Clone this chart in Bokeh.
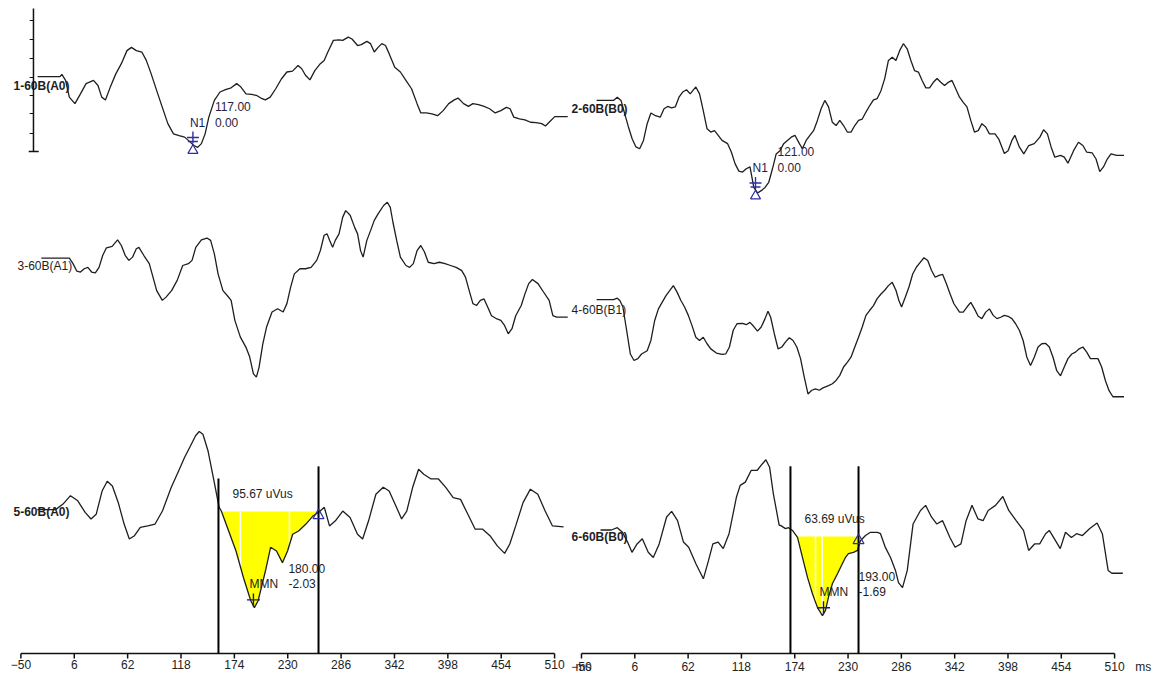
import numpy as np
from bokeh.plotting import figure
from bokeh.layouts import row
from bokeh.models import Range1d, FixedTicker
from bokeh.core.properties import value
from bokeh.embed import file_html
from bokeh.resources import INLINE

# ---------------- data (time in ms, amplitude in uV) ----------------
tick_ms = [-50, 6, 62, 118, 174, 230, 286, 342, 398, 454, 510]
unit_label = "ms"

# 1-60B(A0)
t1 = [-32.4, -9.0, -7.0, -3.1, 0.8, 6.7, 12.5, 18.4, 26.2, 30.9,
      34.8, 38.7, 43.7, 49.6, 55.4, 61.3, 66.0, 71.1, 76.9, 81.6,
      86.7, 92.5, 98.4, 104.2, 110.1, 116.0, 121.8, 125.7, 131.6, 135.5,
      139.4, 143.3, 147.2, 153.0, 158.9, 164.7, 170.6, 176.4, 180.3, 186.2,
      192.1, 197.9, 201.8, 206.5, 211.6, 217.4, 223.3, 229.1, 235.0, 240.8,
      244.7, 248.6, 253.3, 258.4, 264.2, 268.2, 272.1, 277.9, 283.8, 287.7,
      293.5, 297.4, 303.3, 307.2, 313.0, 316.9, 320.8, 324.8, 328.7, 332.6,
      336.5, 342.3, 348.2, 354.0, 359.9, 365.7, 369.6, 375.5, 381.3, 387.2,
      393.1, 398.9, 404.8, 408.7, 414.5, 419.6, 424.3, 430.1, 436.0, 441.8,
      447.7, 453.6, 459.4, 463.3, 467.2, 473.1, 478.9, 484.8, 490.6, 496.5,
      500.4, 504.3, 510.2, 516.0, 523.8]
v1 = [0.19, 0.19, 0.24, 0.11, -0.25, -0.39, -0.18, 0.04, 0.11, 0.00,
      -0.25, -0.31, -0.04, 0.25, 0.47, 0.75, 0.82, 0.75, 0.72, 0.54,
      0.25, -0.11, -0.47, -0.82, -1.04, -1.08, -1.11, -1.18, -1.29, -1.33,
      -1.25, -1.04, -0.68, -0.32, -0.14, -0.09, -0.05, 0.04, -0.02, -0.18,
      -0.19, -0.22, -0.27, -0.31, -0.25, -0.07, 0.14, 0.29, 0.31, 0.43,
      0.36, 0.22, 0.12, 0.32, 0.47, 0.54, 0.72, 0.97, 0.98, 0.97,
      1.04, 1.00, 0.86, 0.88, 0.95, 0.90, 0.72, 0.82, 0.90, 0.86,
      0.68, 0.39, 0.29, 0.11, -0.07, -0.39, -0.59, -0.59, -0.61, -0.65,
      -0.54, -0.39, -0.31, -0.27, -0.39, -0.45, -0.39, -0.41, -0.45, -0.50,
      -0.59, -0.54, -0.47, -0.50, -0.68, -0.72, -0.74, -0.79, -0.80, -0.82,
      -0.87, -0.79, -0.67, -0.67, -0.67]

# 3-60B(A1)
t3 = [-28.5, 0.8, 4.7, 8.6, 12.5, 16.4, 20.3, 24.2, 28.1, 32.0,
      35.9, 39.8, 45.7, 51.5, 55.4, 59.4, 63.3, 67.2, 71.1, 73.8,
      78.9, 84.7, 88.6, 92.5, 98.4, 102.3, 108.1, 114.0, 119.8, 125.7,
      129.6, 133.5, 139.4, 145.2, 149.1, 153.0, 156.9, 162.0, 166.7, 170.6,
      174.5, 180.3, 186.2, 190.1, 194.0, 197.1, 199.9, 203.8, 207.7, 213.5,
      219.4, 225.2, 229.1, 233.0, 236.9, 242.8, 248.6, 254.5, 260.4, 264.2,
      268.2, 271.3, 274.0, 277.1, 279.9, 283.8, 287.7, 290.8, 295.5, 300.2,
      303.3, 306.4, 309.1, 313.0, 316.9, 320.8, 324.8, 330.6, 334.5, 337.6,
      340.4, 344.3, 348.2, 354.0, 357.9, 361.8, 365.7, 369.6, 373.5, 377.4,
      383.3, 389.2, 395.0, 400.9, 406.7, 412.6, 416.5, 420.4, 424.3, 428.2,
      432.1, 436.0, 439.9, 443.8, 449.6, 453.6, 457.5, 461.4, 465.3, 469.2,
      475.0, 478.9, 482.8, 486.7, 492.6, 498.4, 504.3, 508.2, 512.1, 523.8]
v3 = [0.16, 0.16, 0.04, -0.12, -0.14, -0.07, -0.04, -0.14, -0.16, -0.04,
      0.22, 0.38, 0.41, 0.55, 0.43, 0.22, 0.11, 0.18, 0.36, 0.39,
      0.22, 0.04, -0.25, -0.54, -0.75, -0.68, -0.54, -0.32, 0.00, 0.04,
      0.11, 0.39, 0.55, 0.59, 0.54, 0.25, -0.18, -0.54, -0.65, -0.75,
      -1.18, -1.54, -1.76, -1.97, -2.33, -2.40, -2.19, -1.69, -1.33, -1.00,
      -0.93, -1.00, -0.82, -0.47, -0.18, -0.07, -0.07, -0.04, 0.11, 0.32,
      0.65, 0.68, 0.54, 0.39, 0.54, 0.68, 1.04, 1.18, 1.08, 0.82,
      0.68, 0.32, 0.18, 0.54, 0.75, 0.97, 1.11, 1.29, 1.36, 1.25,
      0.93, 0.54, 0.18, 0.00, -0.04, 0.04, 0.32, 0.43, 0.29, 0.07,
      0.04, 0.07, 0.04, 0.00, -0.04, -0.11, -0.25, -0.54, -0.82, -0.86,
      -0.75, -0.72, -0.90, -1.08, -1.15, -1.18, -1.29, -1.47, -1.36, -1.08,
      -0.86, -0.61, -0.39, -0.30, -0.39, -0.57, -0.75, -1.08, -1.11, -1.11]

# 5-60B(A0)
t5 = [-32.8, -13.5, -5.8, 2.0, 9.7, 17.4, 23.6, 29.0, 35.2, 40.6,
      46.0, 52.2, 58.3, 63.8, 69.2, 75.3, 83.1, 90.8, 98.5, 107.8,
      115.5, 121.7, 127.9, 133.3, 137.1, 141.0, 146.4, 152.6, 158.0, 160.3,
      168.0, 175.7, 183.5, 191.2, 195.0, 198.9, 206.6, 212.0, 218.2, 224.4,
      229.8, 235.2, 241.4, 249.1, 256.8, 262.2, 268.4, 273.8, 280.0, 287.7,
      295.4, 303.2, 308.6, 314.8, 322.5, 330.2, 336.4, 344.1, 349.5, 354.9,
      361.1, 367.3, 372.7, 380.4, 388.1, 395.8, 403.6, 411.3, 419.0, 426.7,
      434.5, 442.2, 449.9, 457.6, 463.0, 469.2, 476.9, 484.6, 492.4, 500.1,
      507.8, 519.4]
v5 = [0.04, 0.04, 0.16, 0.34, 0.23, -0.02, -0.16, -0.06, 0.44, 0.65,
      0.55, 0.19, -0.27, -0.59, -0.52, -0.34, -0.31, -0.27, 0.01, 0.52,
      0.87, 1.16, 1.41, 1.63, 1.72, 1.66, 1.30, 0.66, 0.09, 0.01,
      -0.42, -0.85, -1.42, -1.92, -2.07, -1.92, -1.28, -0.77, -0.85, -1.10,
      -0.85, -0.49, -0.42, -0.27, -0.09, -0.02, 0.09, -0.31, -0.20, 0.01,
      -0.13, -0.49, -0.59, -0.20, 0.37, 0.52, 0.44, 0.09, -0.16, 0.01,
      0.52, 0.91, 0.80, 0.70, 0.70, 0.52, 0.30, 0.26, -0.06, -0.38,
      -0.38, -0.52, -0.74, -0.90, -0.70, -0.31, 0.19, 0.48, 0.37, 0.01,
      -0.31, -0.33]

# 2-60B(B0)
t2 = [-34.1, -16.4, -12.4, -8.5, -4.6, -0.7, 3.3, 7.2, 11.1, 15.1,
      19.0, 22.9, 26.9, 32.7, 36.7, 40.6, 44.5, 48.5, 52.4, 56.3,
      60.3, 64.2, 70.1, 74.0, 77.9, 81.9, 85.8, 89.7, 93.6, 97.6,
      103.5, 107.4, 111.3, 115.3, 119.2, 123.1, 127.0, 131.0, 134.9, 138.8,
      142.8, 146.7, 150.6, 154.5, 158.5, 162.4, 166.3, 170.3, 174.2, 178.9,
      182.0, 186.0, 189.9, 193.8, 197.8, 201.7, 205.6, 209.5, 213.5, 217.4,
      221.3, 225.3, 229.2, 233.1, 237.1, 241.0, 244.9, 248.8, 252.8, 256.7,
      260.6, 264.6, 268.5, 272.4, 276.4, 280.3, 284.2, 288.1, 292.1, 296.0,
      299.9, 303.9, 307.8, 311.7, 315.6, 319.6, 323.5, 327.4, 331.4, 335.3,
      339.2, 343.1, 347.1, 351.0, 354.9, 358.9, 362.8, 366.7, 370.6, 374.6,
      378.5, 384.4, 388.3, 394.2, 398.1, 402.1, 405.2, 409.9, 414.6, 419.8,
      425.6, 431.5, 435.4, 439.4, 443.3, 447.2, 453.2, 457.1, 461.0, 466.9,
      472.0, 476.7, 480.6, 486.5, 490.5, 494.4, 498.3, 502.3, 506.2, 512.1,
      519.9]
v2 = [0.18, 0.18, 0.25, 0.18, -0.11, -0.39, -0.65, -0.82, -0.86, -0.68,
      -0.32, -0.09, -0.14, -0.18, 0.00, 0.05, 0.02, 0.04, 0.25, 0.36,
      0.41, 0.32, 0.47, 0.32, -0.04, -0.43, -0.50, -0.47, -0.57, -0.68,
      -0.75, -0.93, -1.18, -1.34, -1.36, -1.29, -1.25, -1.69, -1.81, -1.76,
      -1.69, -1.58, -1.29, -0.97, -0.90, -0.75, -0.68, -0.61, -0.57, -0.75,
      -0.86, -0.68, -0.57, -0.47, -0.25, 0.00, 0.18, 0.04, -0.29, -0.36,
      -0.25, -0.36, -0.50, -0.50, -0.36, -0.25, -0.22, -0.07, 0.07, 0.19,
      0.22, 0.39, 0.65, 1.04, 1.11, 1.04, 1.25, 1.40, 1.29, 1.04,
      0.82, 0.79, 0.61, 0.45, 0.45, 0.57, 0.65, 0.57, 0.50, 0.57,
      0.61, 0.43, 0.25, 0.14, 0.04, -0.25, -0.50, -0.47, -0.32, -0.39,
      -0.54, -0.54, -0.65, -0.96, -0.90, -0.68, -0.57, -0.82, -0.97, -0.79,
      -0.75, -0.61, -0.45, -0.54, -0.82, -1.04, -1.00, -1.04, -1.17, -0.90,
      -0.72, -0.79, -0.93, -0.95, -1.08, -1.35, -1.25, -1.08, -0.97, -1.00,
      -1.00]

# 4-60B(B1)
t4 = [-34.1, -16.4, -12.4, -9.7, -6.5, -2.6, 1.3, 5.2, 9.2, 13.1,
      19.0, 22.9, 26.9, 30.8, 34.7, 38.6, 42.6, 46.5, 50.4, 54.4,
      58.3, 62.2, 66.1, 70.1, 74.0, 77.9, 81.9, 85.8, 91.7, 97.6,
      101.5, 105.4, 109.4, 113.3, 119.2, 123.1, 127.0, 131.0, 134.9, 138.8,
      142.8, 145.9, 148.7, 152.6, 156.5, 160.4, 164.4, 168.3, 172.2, 176.2,
      180.1, 184.0, 187.9, 191.9, 195.8, 199.7, 203.7, 209.5, 213.5, 217.4,
      221.3, 225.3, 229.2, 233.1, 237.1, 241.0, 244.9, 248.8, 252.8, 256.7,
      260.6, 264.6, 268.5, 272.4, 276.4, 280.3, 283.4, 286.2, 290.1, 294.0,
      297.9, 301.9, 305.8, 309.7, 313.7, 317.6, 321.5, 325.5, 329.4, 333.3,
      337.2, 341.2, 347.1, 351.0, 354.9, 358.9, 362.8, 366.7, 370.6, 374.6,
      378.5, 382.5, 386.4, 390.3, 394.2, 398.1, 402.1, 406.0, 409.9, 413.9,
      417.8, 421.7, 425.6, 429.6, 433.5, 437.4, 441.4, 445.3, 449.2, 453.2,
      457.1, 461.0, 465.0, 468.9, 472.8, 476.7, 480.7, 484.6, 488.5, 492.5,
      496.4, 500.3, 504.2, 508.2, 514.0, 519.9]
v4 = [0.22, 0.22, 0.25, 0.20, 0.06, -0.44, -0.95, -1.09, -1.05, -0.95,
      -0.88, -0.66, -0.23, 0.02, 0.16, 0.30, 0.41, 0.52, 0.38, 0.20,
      0.06, -0.12, -0.34, -0.59, -0.66, -0.59, -0.73, -0.84, -0.93, -0.96,
      -0.95, -0.80, -0.44, -0.30, -0.29, -0.32, -0.27, -0.36, -0.46, -0.37,
      -0.19, -0.03, -0.16, -0.52, -0.84, -0.80, -0.69, -0.60, -0.66, -0.80,
      -1.05, -1.45, -1.81, -1.73, -1.70, -1.73, -1.68, -1.63, -1.59, -1.52,
      -1.41, -1.23, -1.13, -1.02, -0.80, -0.59, -0.37, -0.12, -0.01, 0.09,
      0.24, 0.34, 0.42, 0.52, 0.59, 0.42, 0.20, 0.06, 0.27, 0.49,
      0.77, 0.92, 1.02, 1.12, 1.06, 0.85, 0.70, 0.74, 0.76, 0.56,
      0.34, 0.13, -0.05, -0.05, 0.06, 0.16, 0.02, -0.14, -0.19, -0.05,
      0.02, -0.12, -0.19, -0.16, -0.12, -0.14, -0.19, -0.30, -0.44, -0.66,
      -1.02, -1.20, -1.02, -0.80, -0.73, -0.72, -0.80, -1.02, -1.31, -1.42,
      -1.23, -1.05, -0.95, -0.91, -0.84, -0.80, -0.91, -1.05, -1.05, -1.05,
      -1.23, -1.52, -1.74, -1.87, -1.87, -1.87]

# 6-60B(B0)
t6 = [-30.0, -18.6, -12.4, -7.0, -1.6, 3.0, 8.4, 13.9, 20.1, 25.4,
      31.6, 39.4, 44.7, 50.9, 57.1, 62.6, 70.3, 78.0, 83.4, 88.0,
      93.5, 98.9, 105.0, 112.8, 116.7, 122.1, 128.2, 134.4, 139.9, 143.7,
      147.6, 151.5, 157.7, 159.0, 164.3, 167.4, 171.6, 176.9, 182.1, 187.4,
      192.6, 197.9, 203.1, 206.3, 209.4, 213.6, 218.9, 224.1, 227.3, 230.4,
      235.7, 239.9, 243.0, 248.3, 253.5, 260.9, 264.1, 269.3, 274.6, 279.8,
      283.0, 287.2, 292.2, 298.3, 306.1, 311.5, 317.6, 323.1, 329.3, 337.0,
      342.4, 348.6, 354.0, 360.2, 366.4, 371.8, 377.2, 384.9, 392.6, 398.8,
      406.6, 414.3, 419.7, 425.9, 431.3, 437.5, 441.4, 446.8, 452.9, 458.4,
      464.6, 470.0, 476.2, 483.9, 491.6, 497.1, 503.2, 507.1, 518.6]
v6 = [0.14, 0.14, 0.19, 0.09, -0.12, -0.34, -0.16, -0.05, -0.34, -0.45,
      -0.16, 0.42, 0.54, 0.34, -0.12, -0.23, -0.59, -0.91, -0.52, -0.16,
      -0.12, -0.26, 0.06, 0.85, 1.10, 1.17, 1.42, 1.42, 1.56, 1.65,
      1.49, 0.92, 0.24, 0.24, 0.17, 0.19, 0.13, -0.02, -0.45, -0.88,
      -1.23, -1.53, -1.70, -1.59, -1.31, -1.01, -0.80, -0.58, -0.45, -0.37,
      -0.34, -0.30, -0.09, 0.02, 0.09, 0.09, 0.06, -0.24, -0.45, -0.73,
      -0.99, -1.10, -0.73, 0.27, 0.56, 0.67, 0.42, 0.27, 0.34, -0.02,
      -0.23, -0.16, 0.34, 0.67, 0.38, 0.34, 0.56, 0.67, 0.86, 0.56,
      0.34, 0.13, -0.30, -0.16, -0.16, 0.06, 0.13, -0.05, -0.26, 0.09,
      -0.02, 0.06, 0.02, 0.17, 0.29, 0.06, -0.73, -0.79, -0.79]

# markers / annotations
n1_left = dict(time=130.5, labels=["N1", "117.00", "0.00"])
n1_right = dict(time=132.8, labels=["N1", "121.00", "0.00"])
mmn_left = dict(window=(157.3, 262.3), peak=194.0, area="95.67 uVus",
                labels=["MMN", "180.00", "-2.03"], gaps=[180.4, 231.8], tops=[0.71, 0.97])
mmn_right = dict(window=(169.5, 241.0), peak=204.2, area="63.69 uVus",
                 labels=["MMN", "193.00", "-1.69"], gaps=[195.8, 202.8], tops=[1.51, 1.51])

# ---------------- styling / layout constants ----------------
PXV = 46.5          # pixels per uV
PX = 1.0 / PXV      # uV per pixel
FH = 658            # frame height (px)
AXIS_Y = -653 * PX  # level of the drawn time axis
FONT = "Liberation Sans"
INK = "#1e1e1e"
BLUE = "#2e2ea6"


def make_fig(fw, x0, x1, extra_ticks):
    p = figure(frame_width=fw, frame_height=FH,
               x_range=Range1d(x0, x1), y_range=Range1d(-FH * PX, 0),
               output_backend="svg", toolbar_location=None,
               y_axis_location=None, min_border_left=0, min_border_right=0,
               min_border_top=0, min_border_bottom=0)
    p.grid.visible = False
    p.outline_line_color = None
    p.background_fill_color = "white"
    p.border_fill_color = "white"
    ax = p.xaxis[0]
    ax.ticker = FixedTicker(ticks=tick_ms + list(extra_ticks))
    ax.major_label_overrides = {k: unit_label for k in extra_ticks}
    ax.axis_line_color = None
    ax.major_tick_line_color = None
    ax.major_tick_in = 0
    ax.major_tick_out = 0
    ax.minor_tick_line_color = None
    ax.major_label_standoff = 1
    ax.major_label_text_font = FONT
    ax.major_label_text_font_size = "12px"
    ax.major_label_text_color = "#222222"
    # axis line and tick marks along the time scale
    p.segment(x0=[tick_ms[0]], y0=[AXIS_Y], x1=[tick_ms[-1]], y1=[AXIS_Y],
              line_color="#111111", line_width=1.6)
    p.segment(x0=tick_ms, y0=[AXIS_Y] * len(tick_ms), x1=tick_ms,
              y1=[AXIS_Y - 6 * PX] * len(tick_ms), line_color="#111111", line_width=1.5)
    return p


def draw_trace(p, t, v, off, name, style, lx):
    p.line(t, off + np.array(v), line_color=INK, line_width=1.3)
    p.text(x=[lx], y=[off], text=[name], text_font=value(FONT),
           text_font_size="12px", text_font_style=style, text_color=INK,
           text_align="left", text_baseline="middle")


def txt(p, x, y, s, dx=0, color=INK):
    p.text(x=[x], y=[y], text=[s], x_offset=dx, text_font=value(FONT),
           text_font_size="12px", text_color=color,
           text_align="left", text_baseline="middle")


def draw_n1(p, t, v, off, info):
    tt = info["time"]
    pv = off + float(np.interp(tt, t, v))
    p.scatter([tt], [pv + 7 * PX], marker="cross", size=12, line_color=BLUE, line_width=1.4)
    p.scatter([tt], [pv + 3 * PX], marker="dash", size=10, line_color=BLUE, line_width=1.4)
    p.scatter([tt], [pv - 6 * PX], marker="triangle", size=10, line_color=BLUE,
              fill_color=None, line_width=1.2)
    a, b, c = info["labels"]
    txt(p, tt, pv + 22 * PX, a, dx=-3, color="#1c1c5a")
    txt(p, tt, pv + 38 * PX, b, dx=22, color="#2a2440")
    txt(p, tt, pv + 22 * PX, c, dx=22, color="#2a2440")


def draw_mmn(p, t, v, off, info):
    w0, w1 = info["window"]
    ts = np.linspace(w0, w1, 400)
    vs = np.interp(ts, t, v)
    p.varea(x=ts, y1=np.full_like(ts, off), y2=off + np.minimum(vs, 0), fill_color="#ffff00")
    gv = np.minimum(np.interp(info["gaps"], t, v), 0)
    p.segment(x0=info["gaps"], y0=[off, off], x1=info["gaps"], y1=list(off + gv),
              line_color="white", line_width=1.5)
    p.line(t, off + np.array(v), line_color=INK, line_width=1.3)
    p.segment(x0=[w0, w1], y0=[off + info["tops"][0], off + info["tops"][1]],
              x1=[w0, w1], y1=[AXIS_Y, AXIS_Y], line_color="#000000", line_width=2)
    p.scatter([w1], [off - 4 * PX], marker="triangle", size=11, line_color=BLUE,
              fill_color=None, line_width=1.2)
    pk = info["peak"]
    pv = off + float(np.interp(pk, t, v))
    p.scatter([pk], [pv + 6 * PX], marker="cross", size=13, line_color="#1c1c6c", line_width=1.4)
    a, b, c = info["labels"]
    txt(p, pk, pv + 22 * PX, a, dx=-4)
    txt(p, pk, pv + 37 * PX, b, dx=35)
    txt(p, pk, pv + 22 * PX, c, dx=35)
    txt(p, w0, off + 18 * PX, info["area"], dx=14)


# ---------------- left column ----------------
pL = make_fig(570, -71.4, 526.7, [])
offL = [-85 * PX, -265 * PX, -511 * PX]
draw_trace(pL, t1, v1, offL[0], "1-60B(A0)", "bold", -57.8)
draw_trace(pL, t3, v3, offL[1], "3-60B(A1)", "normal", -53.6)
pL.text(x=[-57.8], y=[offL[2]], text=["5-60B(A0)"], text_font=value(FONT),
        text_font_size="12px", text_font_style="bold", text_color=INK,
        text_align="left", text_baseline="middle")
draw_mmn(pL, t5, v5, offL[2], mmn_left)
draw_n1(pL, t1, v1, offL[0], n1_left)

# amplitude scale bar
sb_x = -36.8
pL.segment(x0=[sb_x], y0=[-8 * PX], x1=[sb_x], y1=[-151 * PX], line_color="#111111", line_width=1.5)
sb_ticks = [20, 39, 58, 77, 95, 113, 133]
pL.segment(x0=[sb_x - 4] * len(sb_ticks), y0=[-y * PX for y in sb_ticks],
           x1=[sb_x] * len(sb_ticks), y1=[-y * PX for y in sb_ticks],
           line_color="#111111", line_width=1.2)
pL.segment(x0=[sb_x - 5], y0=[-151 * PX], x1=[sb_x + 5.5], y1=[-151 * PX],
           line_color="#111111", line_width=1.5)

# ---------------- right column ----------------
pR = make_fig(584, -61.55, 551.9, [-48, 540])
offR = [-108.3 * PX, -309.3 * PX, -536 * PX]
draw_trace(pR, t2, v2, offR[0], "2-60B(B0)", "bold", -60.4)
draw_trace(pR, t4, v4, offR[1], "4-60B(B1)", "normal", -60.4)
pR.text(x=[-60.4], y=[offR[2]], text=["6-60B(B0)"], text_font=value(FONT),
        text_font_size="12px", text_font_style="bold", text_color=INK,
        text_align="left", text_baseline="middle")
draw_mmn(pR, t6, v6, offR[2], mmn_right)
draw_n1(pR, t2, v2, offR[0], n1_right)

layout = row(pL, pR, spacing=0)
open("out.html", "w").write(file_html(layout, INLINE))
